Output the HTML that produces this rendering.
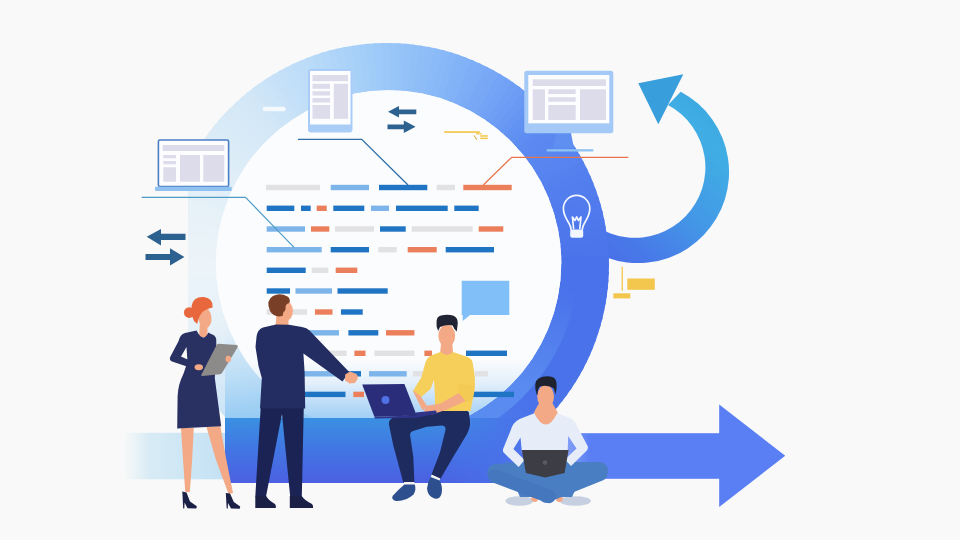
<!DOCTYPE html>
<html><head><meta charset="utf-8"><title>Agile sprint illustration</title>
<style>html,body{margin:0;padding:0;background:#f9f9f9;overflow:hidden}svg{display:block}</style>
</head><body>
<svg width="960" height="540" viewBox="0 0 960 540">
<defs>
  <linearGradient id="gCurve" gradientUnits="userSpaceOnUse" x1="735" y1="110" x2="595" y2="265">
    <stop offset="0" stop-color="#3ba4df"/>
    <stop offset="0.2" stop-color="#40aee4"/>
    <stop offset="0.5" stop-color="#4399e6"/>
    <stop offset="0.8" stop-color="#4879e8"/>
    <stop offset="1" stop-color="#4a6de8"/>
  </linearGradient>
  <linearGradient id="gPale" gradientUnits="userSpaceOnUse" x1="120" y1="0" x2="226" y2="0">
    <stop offset="0.03" stop-color="#d9ecf5" stop-opacity="0"/>
    <stop offset="0.28" stop-color="#d7ebf5" stop-opacity="1"/>
    <stop offset="1" stop-color="#c3e1f4"/>
  </linearGradient>
  <linearGradient id="gPlat" x1="0" y1="0" x2="0" y2="1">
    <stop offset="0" stop-color="#3a90e2"/>
    <stop offset="0.5" stop-color="#4275e3"/>
    <stop offset="1" stop-color="#4b60e2"/>
  </linearGradient>
  <linearGradient id="gFade" gradientUnits="userSpaceOnUse" x1="0" y1="335" x2="0" y2="418">
    <stop offset="0" stop-color="#a4d3f5" stop-opacity="0"/>
    <stop offset="0.5" stop-color="#a4d3f5" stop-opacity="0.5"/>
    <stop offset="1" stop-color="#92c9f3" stop-opacity="0.9"/>
  </linearGradient>
  <linearGradient id="gDisk" gradientUnits="userSpaceOnUse" x1="0" y1="89.5" x2="0" y2="418">
    <stop offset="0" stop-color="#fbfcfd"/>
    <stop offset="0.82" stop-color="#fbfcfd"/>
    <stop offset="0.89" stop-color="#e4f0fb"/>
    <stop offset="0.95" stop-color="#c0def8"/>
    <stop offset="1" stop-color="#a2cff5"/>
  </linearGradient>
  <linearGradient id="gBlend" gradientUnits="userSpaceOnUse" x1="430" y1="0" x2="520" y2="0">
    <stop offset="0" stop-color="#4a72ea" stop-opacity="0"/>
    <stop offset="1" stop-color="#4a72ea" stop-opacity="1"/>
  </linearGradient>
  <linearGradient id="gStripe" gradientUnits="userSpaceOnUse" x1="572" y1="290" x2="530" y2="390">
    <stop offset="0" stop-color="#5c8ff1" stop-opacity="0"/>
    <stop offset="1" stop-color="#5c8ff1" stop-opacity="0.85"/>
  </linearGradient>
  <linearGradient id="gShaft" gradientUnits="userSpaceOnUse" x1="500" y1="0" x2="590" y2="0">
    <stop offset="0" stop-color="#5a7ff4" stop-opacity="0"/>
    <stop offset="1" stop-color="#5a7ff4" stop-opacity="1"/>
  </linearGradient>
  <clipPath id="cRingShape"><path clip-rule="evenodd" d="M165 265 a222 222 0 1 0 444 0 a222 222 0 1 0 -444 0 Z M215.9 263 a172.7 172.7 0 1 0 345.4 0 a172.7 172.7 0 1 0 -345.4 0 Z"/></clipPath>
  <clipPath id="cRing"><rect x="188" y="0" width="772" height="482"/></clipPath>
  <clipPath id="cFade">
    <circle cx="388.6" cy="263" r="172.7"/>
    <path d="M225 330 H400 V420 H225 Z"/>
  </clipPath>
</defs>
<rect width="960" height="540" fill="#f9f9f9"/>

<!-- pale incoming band -->
<rect x="120" y="432.8" width="106" height="46.5" fill="url(#gPale)"/>

<!-- curved arrow -->
<path d="M680.7 91.7 A91 91 0 1 1 559.2 217.5 L573.9 202.7 A70.5 70.5 0 1 0 668 105.1 Z" fill="url(#gCurve)"/>
<path d="M638.3 83.3 L683.3 74.3 L658.3 124.3 Z" fill="#389fdc"/>

<!-- ring -->
<g clip-path="url(#cRing)"><g clip-path="url(#cRingShape)">
<path d="M389.0 264.0 L154.0 264.0 L154.0 258.5 L154.3 252.9Z" fill="#ecf4f9"/>
<path d="M389.0 264.0 L154.1 255.8 L154.3 250.3 L154.8 244.7Z" fill="#ebf3f9"/>
<path d="M389.0 264.0 L154.6 247.6 L155.0 242.1 L155.6 236.6Z" fill="#eaf3f8"/>
<path d="M389.0 264.0 L155.3 239.4 L155.9 233.9 L156.7 228.5Z" fill="#eaf3f8"/>
<path d="M389.0 264.0 L156.3 231.3 L157.1 225.8 L158.1 220.4Z" fill="#e9f2f8"/>
<path d="M389.0 264.0 L157.6 223.2 L158.5 217.7 L159.7 212.3Z" fill="#e8f2f8"/>
<path d="M389.0 264.0 L159.1 215.1 L160.3 209.7 L161.7 204.4Z" fill="#e8f1f8"/>
<path d="M389.0 264.0 L161.0 207.1 L162.3 201.8 L163.9 196.5Z" fill="#e6f1f8"/>
<path d="M389.0 264.0 L163.1 199.2 L164.6 193.9 L166.4 188.7Z" fill="#e6f1f8"/>
<path d="M389.0 264.0 L165.5 191.4 L167.2 186.1 L169.2 180.9Z" fill="#e4f0f8"/>
<path d="M389.0 264.0 L168.2 183.6 L170.1 178.4 L172.2 173.3Z" fill="#e3f0f8"/>
<path d="M389.0 264.0 L171.1 176.0 L173.2 170.8 L175.5 165.8Z" fill="#e2eff8"/>
<path d="M389.0 264.0 L174.3 168.4 L176.6 163.4 L179.1 158.4Z" fill="#e1eff8"/>
<path d="M389.0 264.0 L177.8 161.0 L180.2 156.0 L182.9 151.1Z" fill="#e0eef8"/>
<path d="M389.0 264.0 L181.5 153.7 L184.1 148.8 L186.9 144.0Z" fill="#dfeef7"/>
<path d="M389.0 264.0 L185.5 146.5 L188.3 141.7 L191.2 137.0Z" fill="#deedf7"/>
<path d="M389.0 264.0 L189.7 139.5 L192.6 134.8 L195.8 130.2Z" fill="#ddedf7"/>
<path d="M389.0 264.0 L194.2 132.6 L197.3 128.0 L200.6 123.6Z" fill="#dcecf7"/>
<path d="M389.0 264.0 L198.9 125.9 L202.1 121.4 L205.6 117.1Z" fill="#dbebf7"/>
<path d="M389.0 264.0 L203.8 119.3 L207.2 115.0 L210.8 110.8Z" fill="#d9ebf7"/>
<path d="M389.0 264.0 L209.0 112.9 L212.5 108.7 L216.3 104.6Z" fill="#d8eaf7"/>
<path d="M389.0 264.0 L214.4 106.8 L218.1 102.6 L222.0 98.7Z" fill="#d7e9f7"/>
<path d="M389.0 264.0 L220.0 100.8 L223.8 96.8 L227.8 93.0Z" fill="#d5e9f7"/>
<path d="M389.0 264.0 L225.8 95.0 L229.7 91.1 L233.9 87.5Z" fill="#d4e8f7"/>
<path d="M389.0 264.0 L231.8 89.4 L235.9 85.7 L240.2 82.1Z" fill="#d3e7f7"/>
<path d="M389.0 264.0 L237.9 84.0 L242.2 80.4 L246.6 77.1Z" fill="#d1e6f7"/>
<path d="M389.0 264.0 L244.3 78.8 L248.7 75.4 L253.2 72.2Z" fill="#cee5f7"/>
<path d="M389.0 264.0 L250.9 73.9 L255.4 70.6 L260.0 67.6Z" fill="#cce4f7"/>
<path d="M389.0 264.0 L257.6 69.2 L262.2 66.1 L266.9 63.2Z" fill="#c9e2f7"/>
<path d="M389.0 264.0 L264.5 64.7 L269.2 61.8 L274.0 59.1Z" fill="#c6e1f7"/>
<path d="M389.0 264.0 L271.5 60.5 L276.3 57.7 L281.2 55.2Z" fill="#c4e0f8"/>
<path d="M389.0 264.0 L278.7 56.5 L283.6 53.9 L288.6 51.5Z" fill="#c1dff8"/>
<path d="M389.0 264.0 L286.0 52.8 L291.0 50.4 L296.0 48.2Z" fill="#beddf8"/>
<path d="M389.0 264.0 L293.4 49.3 L298.5 47.1 L303.6 45.1Z" fill="#bcdcf8"/>
<path d="M389.0 264.0 L301.0 46.1 L306.1 44.0 L311.3 42.2Z" fill="#b9dbf8"/>
<path d="M389.0 264.0 L308.6 43.2 L313.8 41.3 L319.1 39.6Z" fill="#b6d9f8"/>
<path d="M389.0 264.0 L316.4 40.5 L321.6 38.8 L327.0 37.3Z" fill="#b3d7f8"/>
<path d="M389.0 264.0 L324.2 38.1 L329.5 36.6 L334.9 35.3Z" fill="#b0d5f8"/>
<path d="M389.0 264.0 L332.1 36.0 L337.5 34.6 L343.0 33.6Z" fill="#add3f8"/>
<path d="M389.0 264.0 L340.1 34.1 L345.6 33.0 L351.0 32.1Z" fill="#aad2f8"/>
<path d="M389.0 264.0 L348.2 32.6 L353.6 31.6 L359.1 30.9Z" fill="#a7d0f8"/>
<path d="M389.0 264.0 L356.3 31.3 L361.8 30.5 L367.3 30.0Z" fill="#a3cef8"/>
<path d="M389.0 264.0 L364.4 30.3 L369.9 29.7 L375.5 29.4Z" fill="#a0ccf8"/>
<path d="M389.0 264.0 L372.6 29.6 L378.1 29.2 L383.7 29.1Z" fill="#9dcaf8"/>
<path d="M389.0 264.0 L380.8 29.1 L386.3 28.9 L391.9 29.0Z" fill="#9bc8f8"/>
<path d="M389.0 264.0 L389.0 29.0 L394.5 29.0 L400.1 29.3Z" fill="#98c6f8"/>
<path d="M389.0 264.0 L397.2 29.1 L402.7 29.3 L408.3 29.8Z" fill="#96c4f8"/>
<path d="M389.0 264.0 L405.4 29.6 L410.9 30.0 L416.4 30.6Z" fill="#94c2f8"/>
<path d="M389.0 264.0 L413.6 30.3 L419.1 30.9 L424.5 31.7Z" fill="#91c0f7"/>
<path d="M389.0 264.0 L421.7 31.3 L427.2 32.1 L432.6 33.1Z" fill="#8fbef7"/>
<path d="M389.0 264.0 L429.8 32.6 L435.3 33.5 L440.7 34.7Z" fill="#8dbcf7"/>
<path d="M389.0 264.0 L437.9 34.1 L443.3 35.3 L448.6 36.7Z" fill="#8abaf7"/>
<path d="M389.0 264.0 L445.9 36.0 L451.2 37.3 L456.5 38.9Z" fill="#88b8f7"/>
<path d="M389.0 264.0 L453.8 38.1 L459.1 39.6 L464.3 41.4Z" fill="#86b6f7"/>
<path d="M389.0 264.0 L461.6 40.5 L466.9 42.2 L472.1 44.2Z" fill="#83b3f7"/>
<path d="M389.0 264.0 L469.4 43.2 L474.6 45.1 L479.7 47.2Z" fill="#81b1f6"/>
<path d="M389.0 264.0 L477.0 46.1 L482.2 48.2 L487.2 50.5Z" fill="#7eaef6"/>
<path d="M389.0 264.0 L484.6 49.3 L489.6 51.6 L494.6 54.1Z" fill="#7cacf6"/>
<path d="M389.0 264.0 L492.0 52.8 L497.0 55.2 L501.9 57.9Z" fill="#79a9f6"/>
<path d="M389.0 264.0 L499.3 56.5 L504.2 59.1 L509.0 61.9Z" fill="#77a7f5"/>
<path d="M389.0 264.0 L506.5 60.5 L511.3 63.3 L516.0 66.2Z" fill="#74a4f5"/>
<path d="M389.0 264.0 L513.5 64.7 L518.2 67.6 L522.8 70.8Z" fill="#72a2f5"/>
<path d="M389.0 264.0 L520.4 69.2 L525.0 72.3 L529.4 75.6Z" fill="#6f9ff4"/>
<path d="M389.0 264.0 L527.1 73.9 L531.6 77.1 L535.9 80.6Z" fill="#6c9cf4"/>
<path d="M389.0 264.0 L533.7 78.8 L538.0 82.2 L542.2 85.8Z" fill="#6999f3"/>
<path d="M389.0 264.0 L540.1 84.0 L544.3 87.5 L548.4 91.3Z" fill="#6696f3"/>
<path d="M389.0 264.0 L546.2 89.4 L550.4 93.1 L554.3 97.0Z" fill="#6393f2"/>
<path d="M389.0 264.0 L552.2 95.0 L556.2 98.8 L560.0 102.8Z" fill="#6090f2"/>
<path d="M389.0 264.0 L558.0 100.8 L561.9 104.7 L565.5 108.9Z" fill="#5d8df1"/>
<path d="M389.0 264.0 L563.6 106.8 L567.3 110.9 L570.9 115.2Z" fill="#5c8af1"/>
<path d="M389.0 264.0 L569.0 112.9 L572.6 117.2 L575.9 121.6Z" fill="#5b89f1"/>
<path d="M389.0 264.0 L574.2 119.3 L577.6 123.7 L580.8 128.2Z" fill="#5a88f0"/>
<path d="M389.0 264.0 L579.1 125.9 L582.4 130.4 L585.4 135.0Z" fill="#5987f0"/>
<path d="M389.0 264.0 L583.8 132.6 L586.9 137.2 L589.8 141.9Z" fill="#5885f0"/>
<path d="M389.0 264.0 L588.3 139.5 L591.2 144.2 L593.9 149.0Z" fill="#5784f0"/>
<path d="M389.0 264.0 L592.5 146.5 L595.3 151.3 L597.8 156.2Z" fill="#5683ef"/>
<path d="M389.0 264.0 L596.5 153.7 L599.1 158.6 L601.5 163.6Z" fill="#5581ef"/>
<path d="M389.0 264.0 L600.2 161.0 L602.6 166.0 L604.8 171.0Z" fill="#5480ef"/>
<path d="M389.0 264.0 L603.7 168.4 L605.9 173.5 L607.9 178.6Z" fill="#537fee"/>
<path d="M389.0 264.0 L606.9 176.0 L609.0 181.1 L610.8 186.3Z" fill="#527eee"/>
<path d="M389.0 264.0 L609.8 183.6 L611.7 188.8 L613.4 194.1Z" fill="#527cee"/>
<path d="M389.0 264.0 L612.5 191.4 L614.2 196.6 L615.7 202.0Z" fill="#517bed"/>
<path d="M389.0 264.0 L614.9 199.2 L616.4 204.5 L617.7 209.9Z" fill="#507aed"/>
<path d="M389.0 264.0 L617.0 207.1 L618.4 212.5 L619.4 218.0Z" fill="#4f79ed"/>
<path d="M389.0 264.0 L618.9 215.1 L620.0 220.6 L620.9 226.0Z" fill="#4e78ec"/>
<path d="M389.0 264.0 L620.4 223.2 L621.4 228.6 L622.1 234.1Z" fill="#4e77ec"/>
<path d="M389.0 264.0 L621.7 231.3 L622.5 236.8 L623.0 242.3Z" fill="#4d76eb"/>
<path d="M389.0 264.0 L622.7 239.4 L623.3 244.9 L623.6 250.5Z" fill="#4c75eb"/>
<path d="M389.0 264.0 L623.4 247.6 L623.8 253.1 L623.9 258.7Z" fill="#4b74eb"/>
<path d="M389.0 264.0 L623.9 255.8 L624.1 261.3 L624.0 266.9Z" fill="#4a73ea"/>
<path d="M389.0 264.0 L624.0 264.0 L624.0 269.5 L623.7 275.1Z" fill="#4a72ea"/>
<path d="M389.0 264.0 L623.9 272.2 L623.7 277.7 L623.2 283.3Z" fill="#4a72ea"/>
<path d="M389.0 264.0 L623.4 280.4 L623.0 285.9 L622.4 291.4Z" fill="#4a72ea"/>
<path d="M389.0 264.0 L622.7 288.6 L622.1 294.1 L621.3 299.5Z" fill="#4a72ea"/>
<path d="M389.0 264.0 L621.7 296.7 L620.9 302.2 L619.9 307.6Z" fill="#4a72ea"/>
<path d="M389.0 264.0 L620.4 304.8 L619.5 310.3 L618.3 315.7Z" fill="#4a72ea"/>
<path d="M389.0 264.0 L618.9 312.9 L617.7 318.3 L616.3 323.6Z" fill="#4a72ea"/>
<path d="M389.0 264.0 L617.0 320.9 L615.7 326.2 L614.1 331.5Z" fill="#4a72ea"/>
<path d="M389.0 264.0 L614.9 328.8 L613.4 334.1 L611.6 339.3Z" fill="#4a72ea"/>
<path d="M389.0 264.0 L612.5 336.6 L610.8 341.9 L608.8 347.1Z" fill="#4a72ea"/>
<path d="M389.0 264.0 L609.8 344.4 L607.9 349.6 L605.8 354.7Z" fill="#4a72ea"/>
<path d="M389.0 264.0 L606.9 352.0 L604.8 357.2 L602.5 362.2Z" fill="#4a73ea"/>
<path d="M389.0 264.0 L603.7 359.6 L601.4 364.6 L598.9 369.6Z" fill="#4a73ea"/>
<path d="M389.0 264.0 L600.2 367.0 L597.8 372.0 L595.1 376.9Z" fill="#4a73ea"/>
<path d="M389.0 264.0 L596.5 374.3 L593.9 379.2 L591.1 384.0Z" fill="#4a73ea"/>
<path d="M389.0 264.0 L592.5 381.5 L589.7 386.3 L586.8 391.0Z" fill="#4a73ea"/>
<path d="M389.0 264.0 L588.3 388.5 L585.4 393.2 L582.2 397.8Z" fill="#4a73ea"/>
<path d="M389.0 264.0 L583.8 395.4 L580.7 400.0 L577.4 404.4Z" fill="#4a73ea"/>
<path d="M389.0 264.0 L579.1 402.1 L575.9 406.6 L572.4 410.9Z" fill="#4a73ea"/>
<path d="M389.0 264.0 L574.2 408.7 L570.8 413.0 L567.2 417.2Z" fill="#4a73ea"/>
<path d="M389.0 264.0 L569.0 415.1 L565.5 419.3 L561.7 423.4Z" fill="#4a73ea"/>
<path d="M389.0 264.0 L563.6 421.2 L559.9 425.4 L556.0 429.3Z" fill="#4a73ea"/>
<path d="M389.0 264.0 L558.0 427.2 L554.2 431.2 L550.2 435.0Z" fill="#4a73ea"/>
<path d="M389.0 264.0 L552.2 433.0 L548.3 436.9 L544.1 440.5Z" fill="#4a74ea"/>
<path d="M389.0 264.0 L546.2 438.6 L542.1 442.3 L537.8 445.9Z" fill="#4b75ea"/>
<path d="M389.0 264.0 L540.1 444.0 L535.8 447.6 L531.4 450.9Z" fill="#4b77ea"/>
<path d="M389.0 264.0 L533.7 449.2 L529.3 452.6 L524.8 455.8Z" fill="#4b78ea"/>
<path d="M389.0 264.0 L527.1 454.1 L522.6 457.4 L518.0 460.4Z" fill="#4b79ea"/>
<path d="M389.0 264.0 L520.4 458.8 L515.8 461.9 L511.1 464.8Z" fill="#4c7aea"/>
<path d="M389.0 264.0 L513.5 463.3 L508.8 466.2 L504.0 468.9Z" fill="#4c7bea"/>
<path d="M389.0 264.0 L506.5 467.5 L501.7 470.3 L496.8 472.8Z" fill="#4d7dea"/>
<path d="M389.0 264.0 L499.3 471.5 L494.4 474.1 L489.4 476.5Z" fill="#4f7feb"/>
<path d="M389.0 264.0 L492.0 475.2 L487.0 477.6 L482.0 479.8Z" fill="#5181eb"/>
<path d="M389.0 264.0 L484.6 478.7 L479.5 480.9 L474.4 482.9Z" fill="#5383eb"/>
<path d="M389.0 264.0 L477.0 481.9 L471.9 484.0 L466.7 485.8Z" fill="#5586ec"/>
<path d="M389.0 264.0 L469.4 484.8 L464.2 486.7 L458.9 488.4Z" fill="#5788ec"/>
<path d="M389.0 264.0 L461.6 487.5 L456.4 489.2 L451.0 490.7Z" fill="#598aed"/>
<path d="M389.0 264.0 L453.8 489.9 L448.5 491.4 L443.1 492.7Z" fill="#5b8ced"/>
<path d="M389.0 264.0 L445.9 492.0 L440.5 493.4 L435.0 494.4Z" fill="#5d8eed"/>
<path d="M389.0 264.0 L437.9 493.9 L432.4 495.0 L427.0 495.9Z" fill="#5f90ee"/>
<path d="M389.0 264.0 L429.8 495.4 L424.4 496.4 L418.9 497.1Z" fill="#6192ee"/>
<path d="M389.0 264.0 L421.7 496.7 L416.2 497.5 L410.7 498.0Z" fill="#6395ef"/>
<path d="M389.0 264.0 L413.6 497.7 L408.1 498.3 L402.5 498.6Z" fill="#6597ef"/>
<path d="M389.0 264.0 L405.4 498.4 L399.9 498.8 L394.3 498.9Z" fill="#6799ef"/>
<path d="M389.0 264.0 L397.2 498.9 L391.7 499.1 L386.1 499.0Z" fill="#699bf0"/>
<path d="M389.0 264.0 L389.0 499.0 L383.5 499.0 L377.9 498.7Z" fill="#6c9ef0"/>
<path d="M389.0 264.0 L380.8 498.9 L375.3 498.7 L369.7 498.2Z" fill="#70a1f0"/>
<path d="M389.0 264.0 L372.6 498.4 L367.1 498.0 L361.6 497.4Z" fill="#74a5f1"/>
<path d="M389.0 264.0 L364.4 497.7 L358.9 497.1 L353.5 496.3Z" fill="#78a9f1"/>
<path d="M389.0 264.0 L356.3 496.7 L350.8 495.9 L345.4 494.9Z" fill="#7dacf2"/>
<path d="M389.0 264.0 L348.2 495.4 L342.7 494.5 L337.3 493.3Z" fill="#81b0f2"/>
<path d="M389.0 264.0 L340.1 493.9 L334.7 492.7 L329.4 491.3Z" fill="#85b3f2"/>
<path d="M389.0 264.0 L332.1 492.0 L326.8 490.7 L321.5 489.1Z" fill="#89b7f2"/>
<path d="M389.0 264.0 L324.2 489.9 L318.9 488.4 L313.7 486.6Z" fill="#8dbbf3"/>
<path d="M389.0 264.0 L316.4 487.5 L311.1 485.8 L305.9 483.8Z" fill="#91bef3"/>
<path d="M389.0 264.0 L308.6 484.8 L303.4 482.9 L298.3 480.8Z" fill="#95c2f4"/>
<path d="M389.0 264.0 L301.0 481.9 L295.8 479.8 L290.8 477.5Z" fill="#9ac5f4"/>
<path d="M389.0 264.0 L293.4 478.7 L288.4 476.4 L283.4 473.9Z" fill="#9ec9f4"/>
<path d="M389.0 264.0 L286.0 475.2 L281.0 472.8 L276.1 470.1Z" fill="#a2cdf4"/>
<path d="M389.0 264.0 L278.7 471.5 L273.8 468.9 L269.0 466.1Z" fill="#a6d0f5"/>
<path d="M389.0 264.0 L271.5 467.5 L266.7 464.7 L262.0 461.8Z" fill="#aad3f5"/>
<path d="M389.0 264.0 L264.5 463.3 L259.8 460.4 L255.2 457.2Z" fill="#aed5f5"/>
<path d="M389.0 264.0 L257.6 458.8 L253.0 455.7 L248.6 452.4Z" fill="#b2d7f6"/>
<path d="M389.0 264.0 L250.9 454.1 L246.4 450.9 L242.1 447.4Z" fill="#b6d9f6"/>
<path d="M389.0 264.0 L244.3 449.2 L240.0 445.8 L235.8 442.2Z" fill="#badbf6"/>
<path d="M389.0 264.0 L237.9 444.0 L233.7 440.5 L229.6 436.7Z" fill="#beddf6"/>
<path d="M389.0 264.0 L231.8 438.6 L227.6 434.9 L223.7 431.0Z" fill="#c2dff6"/>
<path d="M389.0 264.0 L225.8 433.0 L221.8 429.2 L218.0 425.2Z" fill="#c6e1f6"/>
<path d="M389.0 264.0 L220.0 427.2 L216.1 423.3 L212.5 419.1Z" fill="#cae3f7"/>
<path d="M389.0 264.0 L214.4 421.2 L210.7 417.1 L207.1 412.8Z" fill="#cee5f7"/>
<path d="M389.0 264.0 L209.0 415.1 L205.4 410.8 L202.1 406.4Z" fill="#d1e7f7"/>
<path d="M389.0 264.0 L203.8 408.7 L200.4 404.3 L197.2 399.8Z" fill="#d3e8f7"/>
<path d="M389.0 264.0 L198.9 402.1 L195.6 397.6 L192.6 393.0Z" fill="#d6e9f7"/>
<path d="M389.0 264.0 L194.2 395.4 L191.1 390.8 L188.2 386.1Z" fill="#d8eaf7"/>
<path d="M389.0 264.0 L189.7 388.5 L186.8 383.8 L184.1 379.0Z" fill="#daebf7"/>
<path d="M389.0 264.0 L185.5 381.5 L182.7 376.7 L180.2 371.8Z" fill="#dcecf8"/>
<path d="M389.0 264.0 L181.5 374.3 L178.9 369.4 L176.5 364.4Z" fill="#deedf8"/>
<path d="M389.0 264.0 L177.8 367.0 L175.4 362.0 L173.2 357.0Z" fill="#e0eef8"/>
<path d="M389.0 264.0 L174.3 359.6 L172.1 354.5 L170.1 349.4Z" fill="#e3eff8"/>
<path d="M389.0 264.0 L171.1 352.0 L169.0 346.9 L167.2 341.7Z" fill="#e5f0f8"/>
<path d="M389.0 264.0 L168.2 344.4 L166.3 339.2 L164.6 333.9Z" fill="#e6f1f8"/>
<path d="M389.0 264.0 L165.5 336.6 L163.8 331.4 L162.3 326.0Z" fill="#e7f1f8"/>
<path d="M389.0 264.0 L163.1 328.8 L161.6 323.5 L160.3 318.1Z" fill="#e8f2f8"/>
<path d="M389.0 264.0 L161.0 320.9 L159.6 315.5 L158.6 310.0Z" fill="#e8f2f8"/>
<path d="M389.0 264.0 L159.1 312.9 L158.0 307.4 L157.1 302.0Z" fill="#e9f2f8"/>
<path d="M389.0 264.0 L157.6 304.8 L156.6 299.4 L155.9 293.9Z" fill="#e9f3f9"/>
<path d="M389.0 264.0 L156.3 296.7 L155.5 291.2 L155.0 285.7Z" fill="#eaf3f9"/>
<path d="M389.0 264.0 L155.3 288.6 L154.7 283.1 L154.4 277.5Z" fill="#eaf3f9"/>
<path d="M389.0 264.0 L154.6 280.4 L154.2 274.9 L154.1 269.3Z" fill="#ebf4f9"/>
<path d="M389.0 264.0 L154.1 272.2 L153.9 266.7 L154.0 261.1Z" fill="#ecf4f9"/>
</g></g>
<path d="M569.1 278.8 A181.2 181.2 0 0 1 404.4 443.5" fill="none" stroke="url(#gStripe)" stroke-width="17"/>
<rect x="225" y="335" width="200" height="84" fill="url(#gFade)"/>
<circle cx="388.6" cy="263" r="172.7" fill="url(#gDisk)"/>

<!-- code lines -->
<g>
<rect x="266.0" y="184.8" width="54.0" height="5.4" fill="#e2e2e4"/>
<rect x="330.7" y="184.8" width="38.3" height="5.4" fill="#7db4ea"/>
<rect x="379.0" y="184.8" width="48.3" height="5.4" fill="#1f74c4"/>
<rect x="436.7" y="184.8" width="18.3" height="5.4" fill="#e2e2e4"/>
<rect x="463.3" y="184.8" width="48.4" height="5.4" fill="#ec7f5b"/>
<rect x="266.7" y="205.6" width="27.6" height="5.4" fill="#1f74c4"/>
<rect x="301.0" y="205.6" width="9.7" height="5.4" fill="#1f74c4"/>
<rect x="316.7" y="205.6" width="10.0" height="5.4" fill="#ec7f5b"/>
<rect x="333.3" y="205.6" width="31.0" height="5.4" fill="#1f74c4"/>
<rect x="371.0" y="205.6" width="18.0" height="5.4" fill="#7db4ea"/>
<rect x="396.0" y="205.6" width="51.7" height="5.4" fill="#1f74c4"/>
<rect x="454.3" y="205.6" width="24.4" height="5.4" fill="#1f74c4"/>
<rect x="266.7" y="226.3" width="38.3" height="5.4" fill="#7db4ea"/>
<rect x="311.0" y="226.3" width="18.3" height="5.4" fill="#ec7f5b"/>
<rect x="335.0" y="226.3" width="39.0" height="5.4" fill="#e2e2e4"/>
<rect x="380.0" y="226.3" width="25.7" height="5.4" fill="#1f74c4"/>
<rect x="411.7" y="226.3" width="61.0" height="5.4" fill="#e2e2e4"/>
<rect x="478.7" y="226.3" width="24.6" height="5.4" fill="#ec7f5b"/>
<rect x="266.7" y="247.0" width="55.0" height="5.4" fill="#7db4ea"/>
<rect x="330.7" y="247.0" width="38.3" height="5.4" fill="#1f74c4"/>
<rect x="378.3" y="247.0" width="18.4" height="5.4" fill="#e2e2e4"/>
<rect x="407.7" y="247.0" width="29.0" height="5.4" fill="#ec7f5b"/>
<rect x="445.7" y="247.0" width="48.3" height="5.4" fill="#1f74c4"/>
<rect x="266.7" y="267.6" width="39.0" height="5.4" fill="#1f74c4"/>
<rect x="311.7" y="267.6" width="16.6" height="5.4" fill="#e2e2e4"/>
<rect x="335.7" y="267.6" width="21.6" height="5.4" fill="#ec7f5b"/>
<rect x="266.7" y="288.3" width="23.3" height="5.4" fill="#1f74c4"/>
<rect x="295.5" y="288.3" width="36.5" height="5.4" fill="#7db4ea"/>
<rect x="337.5" y="288.3" width="50.2" height="5.4" fill="#1f74c4"/>
<rect x="266.7" y="309.3" width="13.3" height="5.4" fill="#e2e2e4"/>
<rect x="293.0" y="309.3" width="14.0" height="5.4" fill="#e2e2e4"/>
<rect x="315.0" y="309.3" width="17.5" height="5.4" fill="#ec7f5b"/>
<rect x="341.0" y="309.3" width="21.7" height="5.4" fill="#1f74c4"/>
<rect x="308.5" y="330.1" width="30.5" height="5.4" fill="#7db4ea"/>
<rect x="348.4" y="330.1" width="29.9" height="5.4" fill="#1f74c4"/>
<rect x="386.0" y="330.1" width="28.4" height="5.4" fill="#ec7f5b"/>
<rect x="324.4" y="350.6" width="22.3" height="5.4" fill="#e2e2e4"/>
<rect x="354.4" y="350.6" width="11.1" height="5.4" fill="#ec7f5b"/>
<rect x="374.4" y="350.6" width="40.0" height="5.4" fill="#e2e2e4"/>
<rect x="424.4" y="350.6" width="7.6" height="5.4" fill="#ec7f5b"/>
<rect x="466.0" y="350.6" width="41.0" height="5.4" fill="#1f74c4"/>
<rect x="303.0" y="371.1" width="35.0" height="5.4" fill="#7db4ea"/>
<rect x="346.0" y="371.1" width="15.0" height="5.4" fill="#1f74c4"/>
<rect x="369.0" y="371.1" width="37.7" height="5.4" fill="#7db4ea"/>
<rect x="413.0" y="371.1" width="27.0" height="5.4" fill="#e2e2e4"/>
<rect x="475.0" y="371.1" width="13.0" height="5.4" fill="#e2e2e4"/>
<rect x="304.4" y="391.7" width="41.1" height="5.4" fill="#1f74c4"/>
<rect x="353.3" y="391.7" width="10.7" height="5.4" fill="#ec7f5b"/>
<rect x="471.5" y="391.7" width="42.5" height="5.4" fill="#1f74c4"/>
</g>

<!-- platform + arrow -->
<rect x="225" y="418" width="330" height="65" fill="url(#gPlat)"/>
<rect x="430" y="418" width="125" height="65" fill="url(#gBlend)"/>
<rect x="480" y="433.2" width="241" height="45.6" fill="url(#gShaft)"/>
<path d="M719.2 404.6 L785.2 455.7 L719.2 507 Z" fill="#5a7ff4"/>

<!-- leader lines -->
<polyline points="141.7,197.3 245.5,197.3 294,247.3" fill="none" stroke="#4d9cc6" stroke-width="1.2"/>
<polyline points="298,139.3 361.7,139.3 408,185" fill="none" stroke="#2f6ea8" stroke-width="1.3"/>
<polyline points="628.3,157.3 511.7,157.3 483.3,185" fill="none" stroke="#e8734d" stroke-width="1.3"/>

<!-- white dash on ring -->
<rect x="262.7" y="106.7" width="23" height="4.6" rx="2" fill="#f4f9fd"/>

<!-- laptop device -->
<g>
  <rect x="158.4" y="140" width="70.2" height="46.5" rx="1.6" fill="#fdfdff" stroke="#4a7fc6" stroke-width="1.6"/>
  <g fill="#dcdceb">
    <rect x="162.7" y="145" width="61.6" height="6"/>
    <rect x="163.3" y="155" width="12.7" height="3.3"/>
    <rect x="163.3" y="161" width="12.7" height="3.3"/>
    <rect x="163.3" y="167.3" width="12.7" height="14.4"/>
    <rect x="180" y="155" width="20" height="26.7"/>
    <rect x="203.3" y="155" width="21" height="26.7"/>
  </g>
  <rect x="155" y="186.7" width="76.7" height="4.3" rx="1" fill="#8fc1f1"/>
</g>

<!-- tablet device -->
<g>
  <rect x="308" y="68.8" width="44.5" height="63.7" rx="3" fill="#a9cdf6"/>
  <rect x="310" y="71" width="40.5" height="53.5" fill="#fdfdff"/>
  <g fill="#dcdceb">
    <rect x="312.5" y="75" width="35.5" height="6.2"/>
    <rect x="312.5" y="83.8" width="17.5" height="5"/>
    <rect x="312.5" y="91.2" width="17.5" height="4.3"/>
    <rect x="312.5" y="98" width="17.5" height="4.5"/>
    <rect x="312.5" y="105" width="17.5" height="13.8"/>
    <rect x="333.8" y="83.8" width="14.2" height="35"/>
  </g>
</g>

<!-- monitor device -->
<g>
  <path d="M556 133 L571 133 L574 148.5 L553 148.5 Z" fill="#5f8ff0"/>
  <rect x="546.7" y="149.2" width="46.6" height="2.3" fill="#8ec3f2"/>
  <rect x="524.3" y="70.7" width="89" height="62.6" rx="2.5" fill="#a4c9f6"/>
  <rect x="528.3" y="75" width="81" height="48.3" fill="#fdfdff"/>
  <g fill="#dcdceb">
    <rect x="532.7" y="79.3" width="73.3" height="6.7"/>
    <rect x="532.7" y="89.3" width="12.3" height="30.7"/>
    <rect x="548.3" y="89.3" width="27.4" height="4.7"/>
    <rect x="548.3" y="97.3" width="27.4" height="4.4"/>
    <rect x="548.3" y="105" width="27.4" height="15"/>
    <rect x="580" y="89.3" width="26" height="30.7"/>
  </g>
</g>

<!-- arrow pairs -->
<g fill="#2c6190">
  <path d="M388 111.8 L399 106 L399 109.4 L416.3 109.4 L416.3 114.2 L399 114.2 L399 117.6 Z"/>
  <path d="M415.6 126.8 L403.8 120.6 L403.8 124.4 L387.5 124.4 L387.5 129.2 L403.8 129.2 L403.8 133 Z"/>
  <path d="M146.7 236.7 L161 229 L161 233.8 L185.5 233.8 L185.5 240 L161 240 L161 245.5 Z"/>
  <path d="M184.4 257 L170 248.2 L170 254 L145.5 254 L145.5 260 L170 260 L170 265.5 Z"/>
</g>

<!-- yellow bits -->
<g fill="#f3c64d">
  <rect x="444.2" y="131.2" width="35.6" height="1.7"/>
  <rect x="476" y="133.2" width="6" height="1.2"/>
  <rect x="480.2" y="135.2" width="7.6" height="1.5"/>
  <rect x="480.2" y="137.6" width="7.6" height="1.5"/>
  <path d="M473.6 135.6 L474.6 135.2 L477.4 139.6 L476.4 140 Z" fill="#d9b24a"/>
  <rect x="621.6" y="266.7" width="1.3" height="24"/>
  <rect x="627.3" y="278.5" width="27.5" height="11.3"/>
  <rect x="613.3" y="293.3" width="17" height="5.1"/>
</g>

<!-- bulb -->
<g fill="none" stroke="#f2f7ff" stroke-width="1.7" stroke-linecap="round" stroke-linejoin="round">
  <path d="M571 229.5 C571 222.5 563.4 219 563.4 208.6 A13.2 13.2 0 1 1 589.8 208.6 C589.8 219 582.4 222.5 582.4 229.5"/>
  <path d="M573.6 228.5 L572.4 217 L575 220.4 L576.7 217 L578.4 220.4 L581 217 L579.8 228.5"/>
</g>
<rect x="570.2" y="229.6" width="13" height="8.2" rx="2" fill="#f2f7ff"/>

<!-- speech bubble -->
<path d="M461.7 280.7 H509.3 V315 H470 L462.7 321 V315 H461.7 Z" fill="#80bff8"/>

<!-- WOMAN -->
<g>
  <!-- legs -->
  <path d="M181 428 L193.8 428 L192 462 L189.8 492 L185.2 492 L183.2 462 Z" fill="#f3a985"/>
  <path d="M206.5 427 L220.3 426 L226 458 L233 493 L228.6 494 L216 460 Z" fill="#f3a985"/>
  <!-- shoes -->
  <path d="M182.3 491.5 L186.5 492.5 L190 501.5 L196.8 506.3 L196.4 508.6 L187.5 508.2 L184.6 502.5 L184.3 508.4 L183.2 508.4 Z" fill="#1b2047"/>
  <path d="M225.8 493 L230 493.6 L233.8 502 L240.2 506.5 L239.8 508.8 L231 508.4 L228 503 L227.8 508.6 L226.7 508.6 Z" fill="#1b2047"/>
  <!-- neck -->
  <path d="M200 322 L207.5 324 L207.5 337 L199 337 Z" fill="#f3a985"/>
  <!-- dress -->
  <path d="M196.6 330.6 L185 333 Q180 334.6 178.6 341 L170.2 357 Q169 360 172 361.5 L196 369.5 L198.5 364.5 L181 356.5 L186.5 347 L187.5 362 L183.4 374 Q178.2 384 177.6 396 L177.2 428.6 L221.2 426.2 L214.8 378 L216.5 352 L216.2 339 Q215.4 335 211 334 L208.4 332.6 Q203 343.5 196.6 330.6 Z" fill="#293062"/>
  <!-- face -->
  <ellipse cx="204.8" cy="317.6" rx="6.6" ry="10.6" transform="rotate(-8 204.8 317.6)" fill="#f3a985"/>
  <!-- hair -->
  <circle cx="189.2" cy="312.6" r="5.3" fill="#e8673c"/>
  <path d="M212.6 307.4 Q213.6 298.4 204 297 Q193 296.4 191.6 306 Q190.6 314 194 321 L197.2 324 Q198.6 316 203 311.6 Q207 308.4 212.6 307.4 Z" fill="#e8673c"/>
  <!-- tablet -->
  <path d="M218.8 343.8 L236.6 345 Q238.6 345.4 237.6 347.2 L222 373 Q221.3 374 220 374.2 L202.5 376 Q200.6 376 201.6 374.2 L216.6 345 Q217.4 343.8 218.8 343.8 Z" fill="#8d8b8a"/>
  <!-- hands -->
  <ellipse cx="198.8" cy="367.2" rx="4.2" ry="3" fill="#f3a985"/>
  <ellipse cx="228.3" cy="359" rx="2.8" ry="3.2" fill="#f3a985"/>
</g>

<!-- MAN IN SUIT -->
<g>
  <!-- trousers -->
  <path d="M260.8 406 L303.8 406 L301.8 496.5 L290.2 496.5 L282 414 L266 496.5 L255.3 496.5 Z" fill="#1b2355"/>
  <!-- shoes -->
  <path d="M255.3 496 L266.2 496 Q268 500 275 504 Q276.4 506 275.8 508 L255.3 508 Z" fill="#1b2046"/>
  <path d="M289.8 496 L301.8 496 Q304 500 312 504 Q313.6 506 313 508 L289.8 508 Z" fill="#1b2046"/>
  <!-- neck / head -->
  <path d="M276.5 313 L288.5 318 L288.5 328 L275.5 328 Z" fill="#f3a985"/>
  <ellipse cx="284.6" cy="311" rx="8.4" ry="10.6" fill="#f3a985"/>
  <path d="M270 311 Q265.5 300 273 296 Q280 292.5 287.5 296.5 Q291 299 289.3 303 Q286 303.5 285.5 307 Q286 311 283.5 312 L282.5 316 Q274 318 270 311 Z" fill="#7a3f27"/>
  <!-- jacket -->
  <path d="M276 324.6 L263 327.6 Q257.5 329.5 256.5 337 L255.5 347 L258.5 366 L261.8 378 L260 408.5 L305.2 408.5 L304.6 372 L303.4 353.4 L342.5 381.6 L349.2 372 L309.5 330.5 Q307 327.8 302 327 L289 324.8 Z" fill="#242d61"/>
  <!-- hand -->
  <path d="M345.2 374.5 L350 371.5 L356.5 374 Q358.5 376 357.6 379 L355 383 L349.5 383.4 L345 380.5 Z" fill="#f3a985"/>
</g>

<!-- YELLOW MAN -->
<g>
  <!-- trousers -->
  <path d="M435.5 411.1 L413.3 414.4 L393.3 417.8 Q388.5 419.5 388.9 424.3 L393.3 445.5 L403.3 482.6 L414.4 482.6 L413.3 456.7 L410 434.4 Q410.5 431.5 413.2 431.1 L426.7 426.7 L442.2 425.5 Q446 426 445.5 429.9 L440 452.2 L431.1 475.5 L440 479.4 L453.3 456.7 L466.7 434.4 Q470.4 428 470 421.3 L468.9 412.2 L464.4 408.5 Z" fill="#1e2b5f"/>
  <!-- socks -->
  <path d="M404 482 L414.4 482 L414.6 485 L404.6 485 Z" fill="#f3f3f6"/>
  <path d="M431.6 474.6 L440.4 478.4 L439.4 481 L430.6 477.4 Z" fill="#f3f3f6"/>
  <!-- shoes -->
  <path d="M404.4 484.6 L414.8 484.6 Q416.5 490 413.5 494.5 Q406 501.5 396 501 Q391 499.5 392.6 496 Q398 490 404.4 484.6 Z" fill="#2d4f8e"/>
  <path d="M430.6 477 L439.6 480.6 Q443 487 441.6 493.5 Q440 499.5 434.5 498.6 Q427.5 496 427 488.5 Q427.6 482 430.6 477 Z" fill="#2d4f8e"/>
  <!-- neck + head -->
  <path d="M441.2 342 L452.2 342 L453.4 358 L439.6 358 Z" fill="#f3a985"/>
  <ellipse cx="446.8" cy="335.8" rx="8.4" ry="11.2" fill="#f3a985"/>
  <path d="M438.2 331 L436.6 326.5 L436.6 321 Q437 316.6 441 315.6 Q448 314 453.6 315.8 Q457.8 317.6 457.8 323 L456.8 331.4 L454.4 329 L452.6 325.4 Q446 324.4 440 327 Z" fill="#1f2334"/>
  <!-- shirt -->
  <path d="M440.5 352 L431 355.6 Q426.5 358 425 364 L421.5 377 L413 391 L421 397 L430.6 389 L434 380 L435 397 L435 411 L470.5 411 L473 398 Q476.4 385 474 371 L472.5 362 Q471 357.5 466 356.5 L453 352 Q447 358 440.5 352 Z" fill="#f6cf5b"/>
  <!-- right forearm skin -->
  <path d="M463 390.5 L471.5 398.5 L447 409.5 L432 414.6 L424 411.4 L425.6 406 L440.5 403.6 Z" fill="#f3a985"/>
  <path d="M459 384 L474.6 386 L473 398 Q471 402.5 466 401.5 L458.6 393 Z" fill="#f3ca54"/>
  <!-- forearm left skin -->
  <path d="M412.6 390.6 L420.6 396 L427 406 L422.6 410.6 Z" fill="#f3a985"/>
  <!-- laptop -->
  <path d="M362.2 384.4 L404.4 384 L416.7 415.5 L374.4 416.7 Z" fill="#2a2d7a"/>
  <path d="M374.4 416.7 L416.7 415.5 L415.6 412.6 L436 410.6 L437 413.6 L417 417.8 L374.8 418.4 Z" fill="#2f3488"/>
  <circle cx="385.5" cy="400" r="4" fill="#4f70e2"/>
</g>

<!-- WHITE SHIRT MAN -->
<g>
  <!-- socks/feet -->
  <ellipse cx="519.3" cy="501" rx="13.8" ry="4.8" fill="#c7d0e1"/>
  <ellipse cx="575.3" cy="501" rx="15.6" ry="4.8" fill="#c7d0e1"/>
  <ellipse cx="534.6" cy="498.5" rx="3.4" ry="3.6" fill="#f3a985"/>
  <ellipse cx="559.4" cy="498.5" rx="3.4" ry="3.6" fill="#f3a985"/>
  <!-- legs -->
  <path d="M505 462.5 L588 462.5 L572 497 L520 497 Z" fill="#4a7ec3"/>
  <g stroke-linecap="round" fill="none">
    <path d="M560 470.4 L599.6 470.6" stroke="#4a7ec3" stroke-width="17"/>
    <path d="M600.6 474 L546 496" stroke="#4a7ec3" stroke-width="13.5"/>
    <path d="M531 470.6 L495.8 472.4" stroke="#4a7ec3" stroke-width="17"/>
    <path d="M494.6 476 L549 496.4" stroke="#4477bd" stroke-width="13.5"/>
  </g>
  <!-- neck + head -->
  <path d="M539.6 402 L551.8 402 L558 413 L546 433 L533.6 413 Z" fill="#f3a985"/>
  <ellipse cx="545.6" cy="396.6" rx="8.4" ry="11.6" fill="#f3a985"/>
  <path d="M536.6 394.5 Q533 382 538.5 378.6 Q545.5 374.6 553.6 377.6 Q558.6 381 555.6 394 Q554.6 392.5 554 388.5 Q548 384.5 540 386.5 Q537.6 388.5 537.6 394.5 Z" fill="#1f2330"/>
  <!-- shirt -->
  <path d="M534.3 413.2 Q545.8 436 557.2 413.2 L569 417.5 Q575 420 577.5 427 L587.6 446 Q588.6 448.8 586.6 450.8 L571 466 L565 459.5 L576.5 448.5 L568.2 436 L567.6 453 L522 453 L520.5 437.5 L513.4 449 L524.6 460 L518.6 467 L503.6 452.6 Q502.4 450.6 503.3 448.6 L510.4 431 Q513 422 519.6 419 Z" fill="#e6edf8"/>
  <!-- laptop -->
  <path d="M521.8 450 L568.6 450 L564.6 473 L545.2 477.6 L525.9 473 Z" fill="#3d3d46"/>
  <circle cx="545" cy="462.6" r="2.3" fill="#5a5a64"/>
</g>

</svg>

</body></html>
